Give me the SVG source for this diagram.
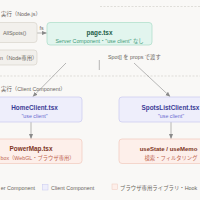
<svg xmlns="http://www.w3.org/2000/svg" width="200" height="200" viewBox="0 0 200 200">
<style>
text{font-family:"Liberation Sans","Noto Sans CJK JP",sans-serif}
.grp{font-size:5.4px;fill:#6b665e}
.t{font-size:6.4px;font-weight:bold;text-anchor:middle}
.s{font-size:5.3px;text-anchor:middle}
.gray rect{fill:#f2f0ec;stroke:#d8d4cc;stroke-width:0.7}
.gray text{font-size:5.4px;fill:#6b665e}
.srv rect{fill:#e2f5ee;stroke:#a9dcc7;stroke-width:0.7}
.srv .t{fill:#1f5e49}.srv .s{fill:#3f9a78}
.cli rect{fill:#eeeefb;stroke:#c8c8f0;stroke-width:0.7}
.cli .t{fill:#3b3b96}.cli .s{fill:#6a6ad0}
.brw rect{fill:#fdefea;stroke:#f0c8bc;stroke-width:0.7}
.brw .t{fill:#7e3524}.brw .s{fill:#c0644f}
.edge{stroke:#8a8a8a;stroke-width:0.6;fill:none;marker-end:url(#ah)}
.dash{stroke:#d4d2cd;stroke-width:0.7;stroke-dasharray:2 1.5}
.lbl{font-size:5.3px;fill:#6b665e}
.leg{font-size:5.4px;fill:#6b665e}
</style>
<defs>
<marker id="ah" viewBox="0 0 6 6" refX="5.5" refY="3" markerWidth="5" markerHeight="5" orient="auto" markerUnits="userSpaceOnUse">
<path d="M0,0.5 L6,3 L0,5.5 z" fill="#8a8a8a"/>
</marker>
</defs>
<rect width="200" height="200" fill="#f9f8f6"/>
<line class="dash" x1="100" y1="6.5" x2="200" y2="6.5"/>
<line class="dash" x1="0" y1="76" x2="200" y2="76"/>
<text class="grp" x="1" y="15.8">実行（Node.js）</text>
<text class="grp" x="1" y="91">実行（Client Component）</text>

<g id="edges">
<path class="edge" d="M37,33 H46.5"/>
<text class="lbl" x="39.5" y="30">fs</text>
<path class="edge" d="M66,63 L33,96.5"/>
<path class="edge" d="M134,63 L170,96.5"/>
<line stroke="#8a8a8a" stroke-width="0.6" x1="99.3" y1="60" x2="99.3" y2="70"/>
<text class="lbl" x="108" y="59">Spot[] を props で渡す</text>
<path class="edge" d="M31,122 V138.5"/>
<path class="edge" d="M171,122 V138.5"/>
</g>

<g id="n-getAllSpots" class="gray">
<rect x="-10" y="22.5" width="47" height="20" rx="3"/>
<text x="3" y="35">AllSpots()</text>
</g>
<g id="n-nodeonly" class="gray">
<rect x="-10" y="50" width="47" height="15" rx="3"/>
<text x="0" y="59.5">n（Node専用）</text>
</g>
<g id="n-page" class="srv">
<rect x="47" y="22.5" width="105" height="22.5" rx="3"/>
<text class="t" x="99.5" y="35">page.tsx</text>
<text class="s" x="99.5" y="43.3">Server Component・"use client" なし</text>
</g>
<g id="n-home" class="cli">
<rect x="-10" y="97" width="92" height="25" rx="3"/>
<text class="t" x="34.5" y="110.3">HomeClient.tsx</text>
<text class="s" x="34.5" y="117.5">"use client"</text>
</g>
<g id="n-spots" class="cli">
<rect x="119" y="97" width="92" height="25" rx="3"/>
<text class="t" x="170.5" y="110.3">SpotsListClient.tsx</text>
<text class="s" x="171" y="117.5">"use client"</text>
</g>
<g id="n-powermap" class="brw">
<rect x="-10" y="139" width="92" height="24.5" rx="3"/>
<text class="t" x="31" y="151.3">PowerMap.tsx</text>
<text class="s" x="0.5" y="159.5" style="text-anchor:start">box（WebGL・ブラウザ専用）</text>
</g>
<g id="n-usestate" class="brw">
<rect x="119" y="139" width="92" height="24.5" rx="3"/>
<text class="t" x="168.5" y="151.3" style="font-size:6px">useState / useMemo</text>
<text class="s" x="171" y="159.5">検索・フィルタリング</text>
</g>
<g id="legend">
<text class="leg" x="35" y="190" text-anchor="end">er Component</text>
<rect x="42.5" y="184.5" width="5.5" height="5.5" fill="#eeeefb" stroke="#c8c8f0" stroke-width="0.5"/>
<text class="leg" x="51" y="190">Client Component</text>
<rect x="112" y="184" width="5.5" height="5.5" fill="#fdefea" stroke="#f0c8bc" stroke-width="0.5"/>
<text class="leg" x="120" y="190">ブラウザ専用ライブラリ・Hook</text>
</g>
</svg>
